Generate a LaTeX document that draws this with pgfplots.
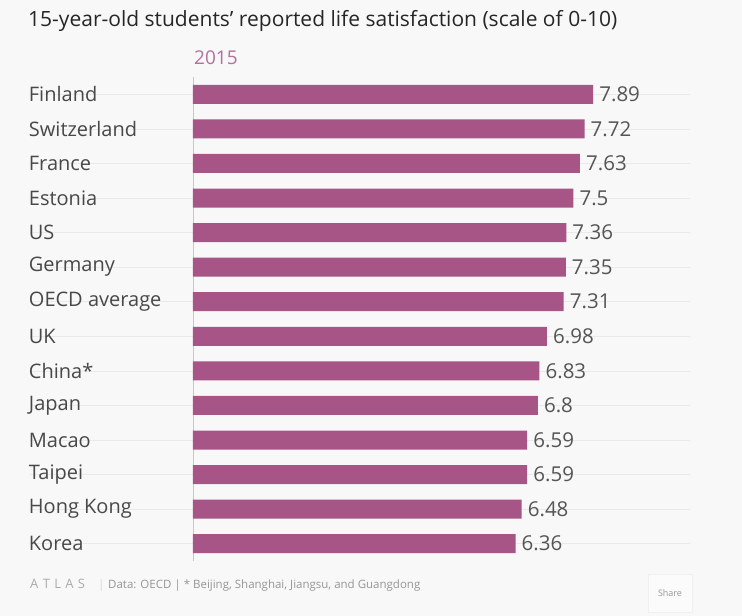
\documentclass[border=0pt]{standalone}
\usepackage{pgfplots}
\pgfplotsset{compat=1.18}
\usepackage{fontspec}
\setmainfont{Open Sans}
\definecolor{bg}{RGB}{248,248,248}
\definecolor{bar}{RGB}{167,84,135}
\definecolor{txt}{RGB}{72,72,72}
\definecolor{val}{RGB}{85,85,85}
\definecolor{yr}{RGB}{180,112,160}
\definecolor{gridc}{RGB}{234,234,234}
\definecolor{foot}{RGB}{150,150,150}
\pgfplotstableread{
idx val lab
0 7.89 7.89
1 7.72 7.72
2 7.63 7.63
3 7.50 7.5
4 7.36 7.36
5 7.35 7.35
6 7.31 7.31
7 6.98 6.98
8 6.83 6.83
9 6.80 6.8
10 6.59 6.59
11 6.59 6.59
12 6.48 6.48
13 6.36 6.36
}\datatable
\begin{document}
\begin{tikzpicture}
\fill[bg] (0pt,0pt) rectangle (742pt,616pt);
\useasboundingbox (0pt,0pt) rectangle (742pt,616pt);
\foreach \i in {0,...,13}{
  \draw[gridc, line width=0.6pt] (30pt,{539pt-34.571pt*(\i+0.5)}) -- (690pt,{539pt-34.571pt*(\i+0.5)});
}
\begin{axis}[
  at={(193pt,55pt)}, anchor=south west,
  scale only axis, width=497pt, height=484pt,
  xmin=0, xmax=9.8,
  ymin=-0.5, ymax=13.5, y dir=reverse,
  clip=false,
  axis lines*=left,
  x axis line style={draw=none},
  y axis line style={draw=black!22, line width=0.6pt},
  xtick=\empty,
  ytick={0,...,13},
  yticklabels={Finland,Switzerland,France,Estonia,US,Germany,OECD average,UK,China*,Japan,Macao,Taipei,Hong Kong,Korea},
  ytick style={draw=none},
  yticklabel style={anchor=west, xshift=-160pt, inner sep=0pt, font=\fontsize{20}{22}\selectfont, text=txt},
  xbar, bar width=19pt,
  nodes near coords,
  point meta=explicit symbolic,
  nodes near coords style={font=\fontsize{20.5}{22}\selectfont, text=val, anchor=west, inner sep=0pt, xshift=6pt},
]
\addplot[fill=bar, draw=none] table[x=val, y=idx, meta=lab] {\datatable};
\end{axis}
\node[anchor=base west, inner sep=0pt, font=\fontsize{21}{24}\selectfont, text=black!85] at (28pt,589pt) {15-year-old students' reported life satisfaction (scale of 0-10)};
\node[anchor=base west, inner sep=0pt, font=\fontsize{19}{21}\selectfont, text=yr] at (194pt,551pt) {2015};
\node[anchor=base west, inner sep=0pt, font=\fontsize{13}{15}\selectfont, text=foot!80] at (30pt,27pt) {A\,\,T\,\,L\,\,A\,\,S};
\node[anchor=base west, inner sep=0pt, font=\fontsize{11.5}{13}\selectfont, text=foot!40] at (98pt,27pt) {|};
\node[anchor=base west, inner sep=0pt, font=\fontsize{11.5}{13}\selectfont, text=foot] at (108pt,27pt) {Data: OECD | * Beijing, Shanghai, Jiangsu, and Guangdong};
\node[draw=black!6, fill=bg!60!white, minimum width=44pt, minimum height=38pt, font=\fontsize{9}{10}\selectfont, text=foot] at (670pt,23pt) {Share};
\end{tikzpicture}
\end{document}
